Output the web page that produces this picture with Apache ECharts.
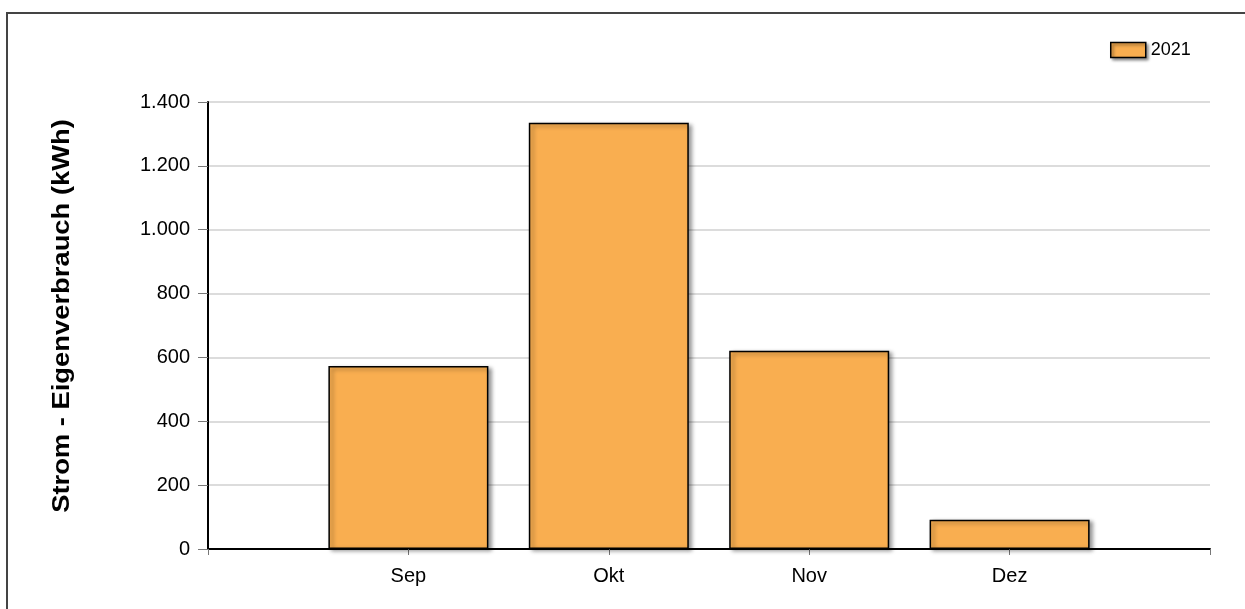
<!DOCTYPE html>
<html>
<head>
<meta charset="utf-8">
<script src="https://cdn.jsdelivr.net/npm/echarts@6/dist/echarts.min.js"></script>
<style>
  html, body { margin: 0; padding: 0; background: #fff; }
  #chart { width: 1245px; height: 609px; }
</style>
</head>
<body>
<div id="chart"></div>
<script>
// Monthly own consumption, 2021 (kWh); empty slots pad the axis on both ends
const months = ['', 'Sep', 'Okt', 'Nov', 'Dez', ''];
const consumption2021 = [null, 573, 1335, 621, 92, null];
const seriesName = '2021';
const yTicks = { min: 0, max: 1400, interval: 200 };
const yTitle = 'Strom - Eigenverbrauch (kWh)';

const fontFamily = '"Liberation Sans", Arial, sans-serif';
const barColor = '#F9AE50';

const chart = echarts.init(document.getElementById('chart'), null, { renderer: 'canvas' });

chart.setOption({
  animation: false,
  backgroundColor: '#fff',
  textStyle: { fontFamily: fontFamily },
  grid: { left: 208, right: 35, top: 102, bottom: 60, containLabel: false },
  legend: {
    left: 1110,
    top: 41,
    padding: 0,
    itemWidth: 35,
    itemHeight: 15,
    itemGap: 8,
    icon: 'rect',
    data: [seriesName],
    itemStyle: {
      color: barColor,
      borderColor: '#000',
      borderWidth: 1.5,
      shadowColor: 'rgba(0,0,0,0.45)',
      shadowBlur: 3,
      shadowOffsetX: 2,
      shadowOffsetY: 2
    },
    textStyle: { fontSize: 18, color: '#000', fontFamily: fontFamily }
  },
  xAxis: {
    type: 'category',
    data: months,
    boundaryGap: false,
    axisLine: { lineStyle: { color: '#000', width: 2 } },
    axisTick: { show: true, length: 6, interval: 0, lineStyle: { color: '#777', width: 1 } },
    axisLabel: { interval: 0, margin: 17, fontSize: 20, color: '#000', fontFamily: fontFamily },
    splitLine: { show: false }
  },
  yAxis: {
    type: 'value',
    min: yTicks.min,
    max: yTicks.max,
    interval: yTicks.interval,
    axisLine: { show: true, lineStyle: { color: '#000', width: 2 } },
    axisTick: { show: true, length: 10, lineStyle: { color: '#777', width: 1 } },
    axisLabel: {
      margin: 18,
      fontSize: 20,
      color: '#000',
      fontFamily: fontFamily,
      formatter: function (v) {
        return String(v).replace(/\B(?=(\d{3})+(?!\d))/g, '.');
      }
    },
    splitLine: { show: true, lineStyle: { color: '#dcdcdc', width: 2 } }
  },
  series: [{
    name: seriesName,
    type: 'bar',
    data: consumption2021,
    barWidth: 160,
    itemStyle: {
      color: barColor,
      borderColor: '#000',
      borderWidth: 1.5,
      shadowColor: 'rgba(0,0,0,0.4)',
      shadowBlur: 4,
      shadowOffsetX: 3,
      shadowOffsetY: 2
    }
  }],
  graphic: [{
    // page frame: top and left edges only
    type: 'polyline',
    shape: { points: [[7, 609], [7, 13], [1245, 13]] },
    style: { stroke: '#444', lineWidth: 2, fill: null },
    silent: true
  }, {
    // rotated, slightly widened axis title
    type: 'text',
    x: 62,
    y: 316,
    rotation: Math.PI / 2,
    scaleX: 1.14,
    style: {
      text: yTitle,
      font: 'bold 24px ' + fontFamily,
      fill: '#000',
      textAlign: 'center',
      textVerticalAlign: 'middle'
    },
    silent: true
  }]
});
</script>
</body>
</html>
